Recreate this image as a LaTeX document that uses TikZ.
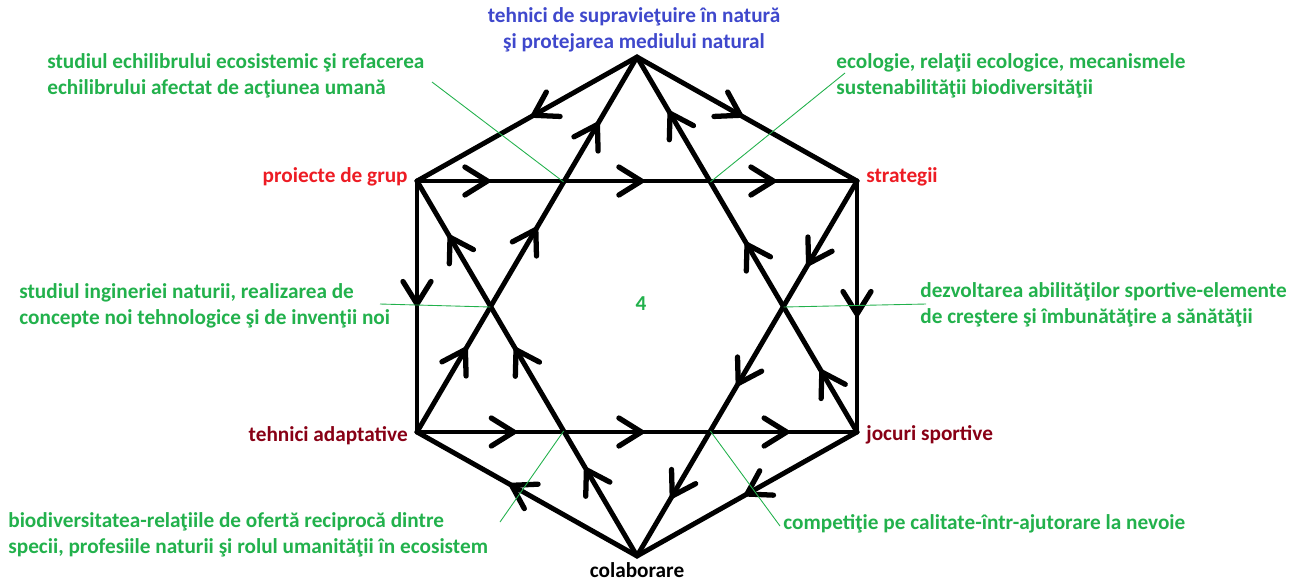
\documentclass[tikz,border=0pt]{standalone}
\usepackage{fontspec}
\setmainfont{Carlito}
\usepackage{tikz}
\usetikzlibrary{arrows.meta,positioning,calc,decorations.markings}

\definecolor{leafgreen}{RGB}{34,177,76}
\definecolor{paintred}{RGB}{237,28,36}
\definecolor{darkred}{RGB}{136,0,21}
\definecolor{indigo}{RGB}{63,72,204}

\begin{document}
\begin{tikzpicture}[
    x=0.02cm, y=-0.02cm,
    font=\fontsize{12.1}{14.8}\selectfont\bfseries,
    node distance=1.8mm,
    edge/.style={line width=2.8pt, line cap=round, line join=round},
    midtip/.style={postaction={decorate, decoration={markings,
        mark=at position #1 with {\draw[line width=3pt] (-0.45cm,0.28cm) -- (0,0) -- (-0.45cm,-0.28cm);}}}},
    note/.style={text=leafgreen, align=left, inner sep=0pt, anchor=west},
    lead/.style={leafgreen, line width=0.5pt}
]
\useasboundingbox (0,0) rectangle (1301,583);

\coordinate (t)  at (637,57);
\coordinate (tl) at (417,181);
\coordinate (tr) at (857,181);
\coordinate (bl) at (417,432);
\coordinate (br) at (857,432);
\coordinate (b)  at (637,556);

\draw[edge, midtip=0.47] (t) -- (tl);
\draw[edge, midtip=0.47] (t) -- (tr);
\draw[edge, midtip=0.16, midtip=0.51, midtip=0.81] (tl) -- (tr);
\draw[edge, midtip=0.49] (tl) -- (bl);
\draw[edge, midtip=0.53] (tr) -- (br);
\draw[edge, midtip=0.22, midtip=0.51, midtip=0.84] (bl) -- (br);
\draw[edge, midtip=0.5] (br) -- (b);
\draw[edge, midtip=0.57] (b) -- (bl);
\draw[edge, midtip=0.22, midtip=0.54, midtip=0.82] (bl) -- (t);
\draw[edge, midtip=0.16, midtip=0.5, midtip=0.85] (br) -- (t);
\draw[edge, midtip=0.23, midtip=0.55, midtip=0.85] (b) -- (tl);
\draw[edge, midtip=0.22, midtip=0.54, midtip=0.84] (tr) -- (b);

\node[text=indigo, align=center, inner sep=0pt] (head) at (634,30) {tehnici de supravieţuire în natură\\ şi protejarea mediului natural};
\node[left=of tl, yshift=0.8mm, text=paintred, inner sep=0pt] (grup) {proiecte de grup};
\node[right=of tr, yshift=0.8mm, text=paintred, inner sep=0pt] (strat) {strategii};
\node[left=of bl, yshift=-0.8mm, text=darkred, inner sep=0pt] (adapt) {tehnici adaptative};
\node[right=of br, yshift=-0.5mm, text=darkred, inner sep=0pt] (jocuri) {jocuri sportive};
\node[below=1.2mm of b, inner sep=0pt] (colab) {colaborare};
\node[text=leafgreen] (centru) at (641,304) {4};

\node[note] (n1) at (47,76) {studiul echilibrului ecosistemic şi refacerea\\echilibrului afectat de acţiunea umană};
\node[note] (n2) at (836,76) {ecologie, relaţii ecologice, mecanismele\\sustenabilităţii biodiversităţii};
\node[note] (n3) at (19,306) {studiul ingineriei naturii, realizarea de\\concepte noi tehnologice şi de invenţii noi};
\node[note] (n4) at (920,305) {dezvoltarea abilităţilor sportive-elemente\\de creştere şi îmbunătăţire a sănătăţii};
\node[note] (n5) at (8,535) {biodiversitatea-relaţiile de ofertă reciprocă dintre\\specii, profesiile naturii şi rolul umanităţii în ecosistem};
\node[note] (n6) at (783,524) {competiţie pe calitate-într-ajutorare la nevoie};

\coordinate (x1) at ($(t)!1/3!(bl)$);
\coordinate (x2) at ($(t)!1/3!(br)$);
\coordinate (x3) at ($(t)!2/3!(bl)$);
\coordinate (x4) at ($(t)!2/3!(br)$);
\coordinate (x5) at ($(b)!1/3!(tl)$);
\coordinate (x6) at ($(b)!1/3!(tr)$);
\coordinate (e1) at (432,82);
\coordinate (e2) at (845,73);
\coordinate (e3) at (380,304);
\coordinate (e4) at (926,304);
\coordinate (e5) at (500,522);
\coordinate (e6) at (780,526);

\draw[lead] (e1) -- (x1);
\draw[lead] (e2) -- (x2);
\draw[lead] (e3) -- (x3);
\draw[lead] (x4) -- (e4);
\draw[lead] (e5) -- (x5);
\draw[lead] (x6) -- (e6);
\end{tikzpicture}
\end{document}
